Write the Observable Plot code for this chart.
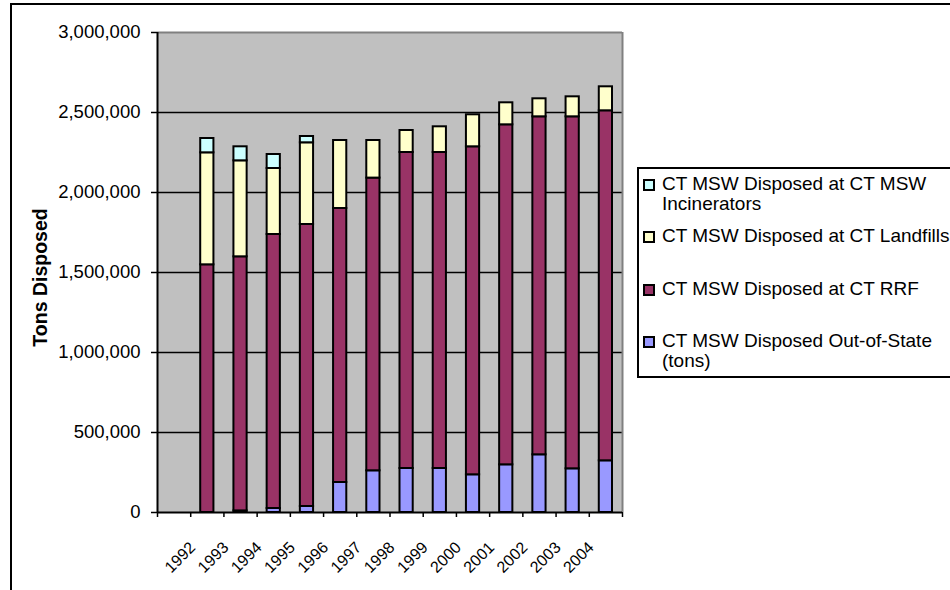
<!DOCTYPE html>
<html>
<head>
<meta charset="utf-8">
<script src="https://cdn.jsdelivr.net/npm/d3@7"></script>
<script src="https://cdn.jsdelivr.net/npm/@observablehq/plot@0.6"></script>
<style>
  body { margin: 0; background: #fff; font-family: Arial, "Liberation Sans", sans-serif; }
  #wrap { position: relative; width: 950px; height: 590px; overflow: hidden; background: #fff; }
  #chart { position: absolute; left: 0; top: 0; }
  #border { position: absolute; left: 10px; top: 3px; width: 1000px; height: 700px; border-left: 2px solid #000; border-top: 2px solid #000; pointer-events: none; }
  #legend { position: absolute; left: 637px; top: 167px; width: 340px; height: 211px; box-sizing: border-box; border: 2px solid #000; background: #fff; padding: 5px 0 0 4px; }
  .item { display: flex; align-items: flex-start; height: 52.3px; }
  .sw { width: 12px; height: 12px; box-sizing: border-box; border: 2px solid #000; margin-top: 5px; flex: none; }
  .lbl { margin-left: 7px; width: 300px; font-size: 19px; line-height: 20px; color: #000; }
</style>
</head>
<body>
<div id="wrap">
  <div id="chart"></div>
  <div id="border"></div>
  <div id="legend"></div>
</div>
<script>
// Category labels on the x axis
const years = ["1992","1993","1994","1995","1996","1997","1998","1999","2000","2001","2002","2003","2004"];

// Series (stack order, bottom to top)
const seriesNames = [
  "CT MSW Disposed Out-of-State (tons)",
  "CT MSW Disposed at CT RRF",
  "CT MSW Disposed at CT Landfills",
  "CT MSW Disposed at CT MSW Incinerators"
];
const seriesColors = ["#9999ff", "#993366", "#ffffcc", "#ccffff"];

// Values (tons), one per bar
const outOfState   = [0, 10000, 25000, 37500, 187500, 260600, 275000, 275000, 235600, 298000, 360600, 273000, 323000];
const rrf          = [1548000, 1588000, 1712500, 1762500, 1712500, 1829400, 1975000, 1975000, 2050000, 2125000, 2112400, 2200000, 2187600];
const landfills    = [700000, 600000, 412500, 510600, 425000, 235000, 137500, 160600, 200000, 137600, 112600, 125000, 150000];
const incinerators = [89500, 87600, 87500, 39400, 0, 0, 0, 0, 0, 0, 0, 0, 0];

const yTicks = [0, 500000, 1000000, 1500000, 2000000, 2500000, 3000000];
const yTitle = "Tons Disposed";

// Build stacked table (bars sit one slot to the right of their labels, as in the original)
const seriesValues = [outOfState, rrf, landfills, incinerators];
const rows = [];
const nBars = outOfState.length;
for (let i = 0; i < nBars; i++) {
  let base = 0;
  seriesValues.forEach((vals, s) => {
    const v = vals[i];
    if (v > 0) rows.push({slot: i + 1, series: seriesNames[s], y1: base, y2: base + v});
    base += v;
  });
}
const nSlots = nBars + 1;

const font = "Arial, 'Liberation Sans', sans-serif";
const chart = Plot.plot({
  width: 950,
  height: 590,
  marginLeft: 157,
  marginRight: 328,
  marginTop: 32,
  marginBottom: 78,
  style: {fontFamily: font, background: "transparent", color: "#000"},
  x: {domain: [0, nSlots], axis: null},
  y: {domain: [0, 3000000], axis: null},
  color: {domain: seriesNames, range: seriesColors},
  marks: [
    Plot.frame({fill: "#c0c0c0", stroke: null}),
    Plot.ruleY(yTicks.filter(d => d > 0 && d < 3000000), {stroke: "#000", strokeWidth: 1.5}),
    Plot.ruleY([3000000], {stroke: "#808080", strokeWidth: 2}),
    Plot.ruleX([nSlots], {stroke: "#808080", strokeWidth: 2}),
    Plot.rectY(rows, {
      x1: d => d.slot, x2: d => d.slot + 1, y1: "y1", y2: "y2",
      fill: "series", stroke: "#000", strokeWidth: 2,
      insetLeft: 10, insetRight: 10
    }),
    Plot.axisY(yTicks, {
      tickSize: 6, tickPadding: 11, strokeWidth: 1.5,
      tickFormat: d3.format(","), fontSize: 18.5, label: null
    }),
    Plot.ruleX([0], {stroke: "#000", strokeWidth: 2}),
    Plot.ruleY([0], {stroke: "#000", strokeWidth: 2}),
    Plot.axisX(d3.range(nSlots + 1), {tickSize: 5, strokeWidth: 1.5, tickFormat: () => "", label: null}),
    Plot.text(years, {
      x: (d, i) => i + 0.5, frameAnchor: "bottom", dy: 45, dx: 6,
      rotate: -45, textAnchor: "middle", lineAnchor: "middle",
      fontSize: 16, fill: "#000"
    }),
    Plot.text([yTitle], {
      frameAnchor: "left", dx: -117, dy: 5, rotate: -90,
      textAnchor: "middle", lineAnchor: "middle",
      fontSize: 19.5, fontWeight: "bold", fill: "#000"
    })
  ]
});
document.getElementById("chart").appendChild(chart);

// Legend (top-to-bottom = reverse of stack order)
const legend = document.getElementById("legend");
for (let s = seriesNames.length - 1; s >= 0; s--) {
  const item = document.createElement("div");
  item.className = "item";
  const sw = document.createElement("div");
  sw.className = "sw";
  sw.style.background = seriesColors[s];
  const lbl = document.createElement("div");
  lbl.className = "lbl";
  lbl.textContent = seriesNames[s];
  item.appendChild(sw);
  item.appendChild(lbl);
  legend.appendChild(item);
}
</script>
</body>
</html>
